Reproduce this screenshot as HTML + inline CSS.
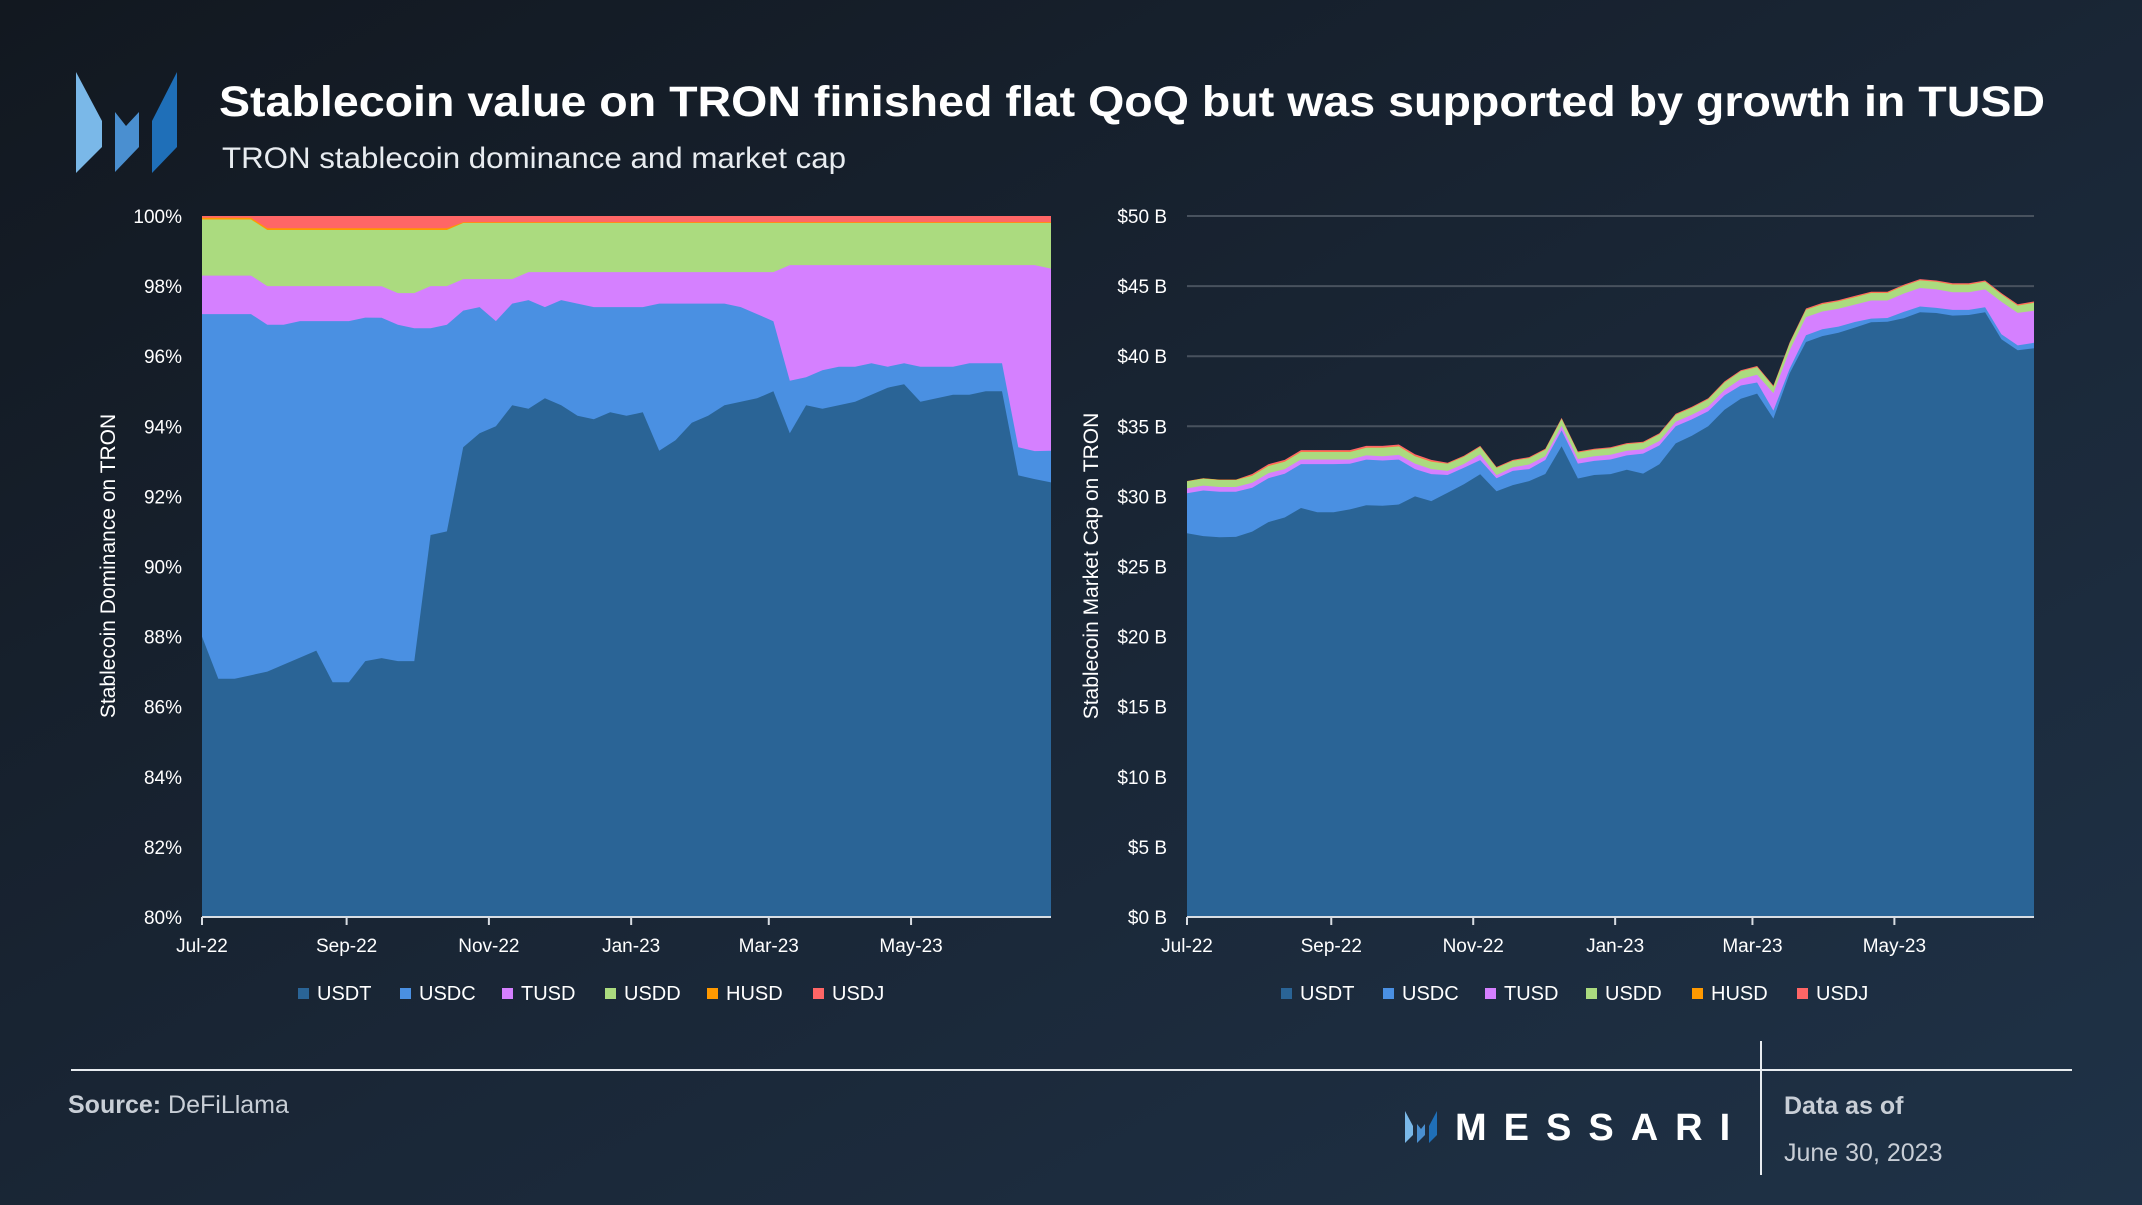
<!DOCTYPE html>
<html><head><meta charset="utf-8">
<style>
html,body{margin:0;padding:0;width:2142px;height:1205px;overflow:hidden;background:#151c25;}
svg{display:block;font-family:"Liberation Sans",sans-serif;}
</style></head>
<body>
<svg id="main" width="2142" height="1205" viewBox="0 0 2142 1205">
<defs>
<linearGradient id="bg" x1="0" y1="0" x2="1" y2="1">
<stop offset="0" stop-color="#121820"/><stop offset="0.55" stop-color="#1a2737"/><stop offset="1" stop-color="#1f3247"/>
</linearGradient>
</defs>
<rect width="2142" height="1205" fill="url(#bg)"/>
<g>
<polygon points="76,72 102,121 102,147 76,173" fill="#7ab8e8"/>
<polygon points="115,112 126,126 139,112 139,147 115,172" fill="#4a8fd0"/>
<polygon points="177,72 177,147 152,173 152,121" fill="#1f6fb8"/>
</g>
<text x="219" y="116" font-size="43" font-weight="bold" fill="#ffffff" textLength="1826" lengthAdjust="spacingAndGlyphs">Stablecoin value on TRON finished flat QoQ but was supported by growth in TUSD</text>
<text x="222" y="168" font-size="30" fill="#e8ecf0" textLength="624" lengthAdjust="spacingAndGlyphs">TRON stablecoin dominance and market cap</text>
<g id="left"></g>
<g id="right"></g>
<line x1="71" y1="1070" x2="2072" y2="1070" stroke="#e8ecf0" stroke-width="2"/>
<line x1="1761" y1="1041" x2="1761" y2="1175" stroke="#e8ecf0" stroke-width="2"/>
<text x="68" y="1113" font-size="25" fill="#c8ced6"><tspan font-weight="bold">Source:</tspan> DeFiLlama</text>
<g>
<polygon points="1405,1111 1413,1126 1413,1135 1405,1143" fill="#7ab8e8"/>
<polygon points="1417,1124 1421,1129 1425,1124 1425,1135 1417,1143" fill="#4a8fd0"/>
<polygon points="1437,1111 1437,1135 1429,1143 1429,1126" fill="#1f6fb8"/>
<text x="1455" y="1140" font-size="38" font-weight="bold" fill="#ffffff" letter-spacing="17">MESSARI</text>
</g>
<text x="1784" y="1114" font-size="25" font-weight="bold" fill="#c8ced6">Data as of</text>
<text x="1784" y="1161" font-size="25" fill="#c8ced6">June 30, 2023</text>
</svg>
<script>
// weekly points (day = 7*i), Jul 1 2022 .. Jun 30 2023
const coins = ["USDT","USDC","TUSD","USDD","HUSD","USDJ"];
const colors = ["#2a6496","#4a90e2","#d580ff","#abdb7f","#ff9900","#ff6666"];
const usdtShare = [88.0,86.8,86.8,86.9,87.0,87.2,87.4,87.6,86.7,86.7,87.3,87.3,87.3,87.3,90.9,91.0,93.4,93.8,94.0,94.6,94.5,94.8,94.6,94.3,94.2,94.4,94.3,94.4,93.3,93.6,94.1,94.3,94.6,94.7,94.8,95.0,93.8,94.6,94.5,94.6,94.7,94.9,95.1,95.2,94.7,94.8,94.9,94.9,95.0,95.0,92.6,92.4,92.4];
const usdcShare = [9.2,10.4,10.4,10.3,9.9,9.7,9.6,9.4,10.3,10.3,9.8,9.7,9.6,9.5,5.9,5.9,3.9,3.6,3.0,2.9,3.1,2.6,3.0,3.2,3.2,3.0,3.1,3.0,4.2,3.9,3.4,3.2,2.9,2.7,2.4,2.0,1.5,0.8,1.1,1.1,1.0,0.9,0.6,0.6,1.0,0.9,0.8,0.9,0.8,0.8,0.8,0.8,0.9];
const tusdShare = [1.1,1.1,1.1,1.1,1.1,1.1,1.0,1.0,1.0,1.0,0.9,0.9,0.9,1.0,1.2,1.1,0.9,0.8,1.2,0.7,0.8,1.0,0.8,0.9,1.0,1.0,1.0,1.0,0.9,0.9,0.9,0.9,0.9,1.0,1.2,1.4,3.3,3.2,3.0,2.9,2.9,2.8,2.9,2.8,2.9,2.9,2.9,2.8,2.8,2.8,5.2,5.3,5.2];
const usddShare = [1.6,1.6,1.6,1.6,1.6,1.6,1.6,1.6,1.6,1.6,1.6,1.6,1.8,1.8,1.6,1.6,1.6,1.6,1.6,1.6,1.4,1.4,1.4,1.4,1.4,1.4,1.4,1.4,1.4,1.4,1.4,1.4,1.4,1.4,1.4,1.4,1.2,1.2,1.2,1.2,1.2,1.2,1.2,1.2,1.2,1.2,1.2,1.2,1.2,1.2,1.2,1.2,1.3];
const husdShare = [0.05,0.05,0.05,0.05,0.05,0.05,0.05,0.05,0.05,0.05,0.05,0.05,0.05,0.05,0.05,0.05,0.02,0.02,0.02,0.02,0.02,0.02,0.02,0.02,0.02,0.02,0.02,0.02,0.02,0.02,0.02,0.02,0.02,0.02,0.02,0.02,0.02,0.02,0.02,0.02,0.02,0.02,0.02,0.02,0.02,0.02,0.02,0.02,0.02,0.02,0.02,0.02,0.02];
const usdjShare = [0.05,0.05,0.05,0.05,0.35,0.35,0.35,0.35,0.35,0.35,0.35,0.35,0.35,0.35,0.35,0.35,0.18,0.18,0.18,0.18,0.18,0.18,0.18,0.18,0.18,0.18,0.18,0.18,0.18,0.18,0.18,0.18,0.18,0.18,0.18,0.18,0.18,0.18,0.18,0.18,0.18,0.18,0.18,0.18,0.18,0.18,0.18,0.18,0.18,0.18,0.18,0.18,0.18];
const totalCapB = [31.1,31.3,31.2,31.2,31.6,32.3,32.6,33.3,33.3,33.3,33.3,33.6,33.6,33.7,33.0,32.6,32.4,32.9,33.6,32.1,32.6,32.8,33.4,35.6,33.2,33.4,33.5,33.8,33.9,34.5,35.9,36.4,37.0,38.2,39.0,39.3,37.9,41.0,43.4,43.8,44.0,44.3,44.6,44.6,45.1,45.5,45.4,45.2,45.2,45.4,44.5,43.7,43.9];
const xTickLabels = ["Jul-22","Sep-22","Nov-22","Jan-23","Mar-23","May-23"];
const xTickDays = [0,62,123,184,243,304];
const leftTickLabels = ["80%","82%","84%","86%","88%","90%","92%","94%","96%","98%","100%"];
const leftTickValues = [80,82,84,86,88,90,92,94,96,98,100];
const rightTickLabels = ["$0 B","$5 B","$10 B","$15 B","$20 B","$25 B","$30 B","$35 B","$40 B","$45 B","$50 B"];
const rightTickValues = [0,5,10,15,20,25,30,35,40,45,50];

const NS="http://www.w3.org/2000/svg";
function mk(tag,attrs,parent){const e=document.createElementNS(NS,tag);for(const k in attrs)e.setAttribute(k,attrs[k]);parent.appendChild(e);return e;}
const shares=[usdtShare,usdcShare,tusdShare,usddShare,husdShare,usdjShare];
const n=usdtShare.length;
const norm=[];for(let i=0;i<n;i++){let s=0;shares.forEach(a=>s+=a[i]);norm.push(shares.map(a=>a[i]*100/s));}

function drawChart(g,x0,x1,yMin,yMax,values,tickVals,tickLbls,yTitle,titleX,legendXs,grid){
  const y0=917,y1=216;
  const X=d=>x0+(d/364)*(x1-x0);
  const Y=v=>y0-(Math.max(yMin,Math.min(yMax,v))-yMin)/(yMax-yMin)*(y0-y1);
  if(grid){tickVals.forEach(v=>{if(v>0){const l=mk('line',{x1:x0,x2:x1,y1:Y(v),y2:Y(v),stroke:'#48525e','stroke-width':2},g);
    
    }});}
  const cum=values.map(r=>{let c=0;return r.map(v=>c+=v);});
  for(let k=coins.length-1;k>=0;k--){
    let d='';
    for(let i=0;i<n;i++)d+=(i?'L':'M')+X(i*7).toFixed(1)+','+Y(cum[i][k]).toFixed(1);
    d+='L'+X(364)+','+y0+'L'+X(0)+','+y0+'Z';
    const p=mk('path',{d:d,fill:colors[k]},g);
    
    
  }
  const ax=mk('line',{x1:x0,x2:x1,y1:y0,y2:y0,stroke:'#d8dde3','stroke-width':2},g);
  
  
  tickVals.forEach((v,i)=>{const t=mk('text',{x:x0-20,y:Y(v)+7,'font-size':19,fill:'#ffffff','text-anchor':'end'},g);t.textContent=tickLbls[i];
    
    });
  xTickDays.forEach((d,i)=>{const tk=mk('line',{x1:X(d),x2:X(d),y1:y0,y2:y0+8,stroke:'#d8dde3','stroke-width':2},g);
    
    
    const t=mk('text',{x:X(d),y:952,'font-size':19,fill:'#ffffff','text-anchor':'middle'},g);t.textContent=xTickLabels[i];
    
    });
  const yt=mk('text',{x:0,y:0,'font-size':21,fill:'#ffffff','text-anchor':'middle',transform:`translate(${titleX},566) rotate(-90)`},g);yt.textContent=yTitle;
  
  
  coins.forEach((c,k)=>{const r=mk('rect',{x:legendXs[k],y:988,width:11,height:11,fill:colors[k]},g);
    
    
    const t=mk('text',{x:legendXs[k]+19,y:1000,'font-size':20,fill:'#ffffff'},g);t.textContent=c;
    
    });
}
drawChart(document.getElementById('left'),202,1051,80,100,norm,leftTickValues,leftTickLabels,'Stablecoin Dominance on TRON',115,[298,400,502,605,707,813],false);
const capVals=norm.map((r,i)=>r.map(v=>v*totalCapB[i]/100));
drawChart(document.getElementById('right'),1187,2034,0,50,capVals,rightTickValues,rightTickLabels,'Stablecoin Market Cap on TRON',1098,[1281,1383,1485,1586,1692,1797],true);
</script>
</body></html>
